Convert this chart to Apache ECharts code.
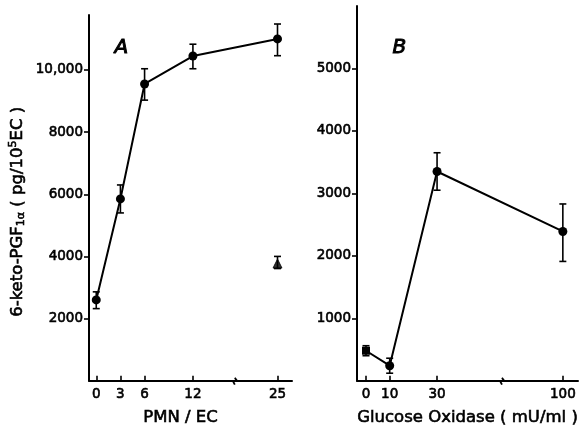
<!DOCTYPE html>
<html><head><meta charset="utf-8">
<script src="https://cdn.jsdelivr.net/npm/echarts@6/dist/echarts.min.js"></script>
<style>html,body{margin:0;padding:0;background:#fff}#c{width:582px;height:432px}</style>
</head><body><div id="c"></div>
<script>
// Panel A: PMN/EC
const pmnX = [0, 3, 6, 12, 25];
const pgfA = [2600, 5850, 9550, 10450, 11000];
const pgfALo = [2320, 5400, 9030, 10040, 10460];
const pgfAHi = [2860, 6300, 10040, 10830, 11480];
const triX = [25];
const triY = [3770];
const triLo = [3610];
const triHi = [4000];
const ticksAx = [0, 3, 6, 12, 25];
const ticksAy = [2000, 4000, 6000, 8000, 10000];
const breakA = {start: 17.2, end: 19.7};

// Panel B: Glucose oxidase
const goX = [0, 10, 30, 100];
const pgfB = [480, 240, 3350, 2390];
const pgfBLo = [400, 120, 3050, 1910];
const pgfBHi = [560, 360, 3650, 2830];
const ticksBx = [0, 10, 30, 100];
const ticksBy = [1000, 2000, 3000, 4000, 5000];
const breakB = {start: 57.4, end: 74.3};

const FONT = 'DejaVu Sans';
const TB = {textBorderColor: '#000', textBorderWidth: 0.6};
const chart = echarts.init(document.getElementById('c'), null, {renderer: 'canvas'});

function errRender(params, api) {
  const x = api.value(0);
  const p1 = api.coord([x, api.value(1)]);
  const p2 = api.coord([x, api.value(2)]);
  const w = 3.5;
  const st = {stroke: '#000', lineWidth: 1.6};
  return {type: 'group', children: [
    {type: 'line', shape: {x1: p1[0], y1: p1[1], x2: p2[0], y2: p2[1]}, style: st},
    {type: 'line', shape: {x1: p1[0]-w, y1: p1[1], x2: p1[0]+w, y2: p1[1]}, style: st},
    {type: 'line', shape: {x1: p2[0]-w, y1: p2[1], x2: p2[0]+w, y2: p2[1]}, style: st}
  ]};
}
function breakRender(params, api) {
  const p = api.coord([api.value(0), api.value(1)]);
  const x = p[0], y = p[1];
  return {type: 'polyline', shape: {points: [[x, y-3], [x+1.5, y-1], [x-1.5, y+1], [x, y+4]]},
    style: {stroke: '#000', lineWidth: 1.8, fill: null}};
}

function xAxisCfg(idx, min, max, br, ticks, name, gap, namePad) {
  return {
    gridIndex: idx, type: 'value', min: min, max: max,
    breaks: [{start: br.start, end: br.end, gap: 0}],
    breakArea: {show: false, itemStyle: {opacity: 0}},
    name: name, nameLocation: 'middle', nameGap: gap,
    nameTextStyle: Object.assign({fontFamily: FONT, fontSize: 16.5, color: '#000', padding: namePad}, TB),
    axisLine: {show: true, onZero: false, lineStyle: {color: '#000', width: 2}},
    axisTick: {show: true, inside: true, length: 5, customValues: ticks, lineStyle: {color: '#000', width: 1.6}},
    axisLabel: Object.assign({customValues: ticks, margin: 7, fontFamily: FONT, fontSize: 13.5, color: '#000'}, TB),
    splitLine: {show: false}
  };
}
function yAxisCfg(idx, max, ticks, fmt) {
  return {
    gridIndex: idx, type: 'value', min: 0, max: max,
    axisLine: {show: true, onZero: false, lineStyle: {color: '#000', width: 2}},
    axisTick: {show: true, inside: false, length: 5, customValues: ticks, lineStyle: {color: '#000', width: 1.6}},
    axisLabel: Object.assign({customValues: ticks, margin: 6, fontFamily: FONT, fontSize: 13.5, color: '#000', formatter: fmt}, TB),
    splitLine: {show: false}
  };
}

const yA = yAxisCfg(0, 11770, ticksAy, v => v >= 10000 ? '10,000' : String(v));
yA.name = '6-keto-PGF{sub|1α} ( pg/10{sup|5}EC )';
yA.nameLocation = 'middle';
yA.nameGap = 62;
yA.nameRotate = 90;
yA.nameTextStyle = Object.assign({fontFamily: FONT, fontSize: 16.5, color: '#000', padding: [0, 28, 0, 0],
  rich: {
    sub: Object.assign({fontFamily: FONT, fontSize: 11, color: '#000', verticalAlign: 'bottom', padding: [6, 0, 0, 0]}, TB),
    sup: Object.assign({fontFamily: FONT, fontSize: 11, color: '#000', verticalAlign: 'top', padding: [0, 0, 8, 0]}, TB)
  }}, TB);

chart.setOption({
  animation: false,
  backgroundColor: '#fff',
  grid: [
    {left: 89, top: 15, width: 203, height: 368},
    {left: 357, top: 6, width: 221, height: 377}
  ],
  graphic: [
    {type: 'text', left: 114, top: 37, style: {text: 'A', fontFamily: FONT, fontSize: 20, fontStyle: 'italic', fill: '#000', stroke: '#000', lineWidth: 1}},
    {type: 'text', left: 392, top: 37, style: {text: 'B', fontFamily: FONT, fontSize: 20, fontStyle: 'italic', fill: '#000', stroke: '#000', lineWidth: 1}}
  ],
  xAxis: [
    xAxisCfg(0, -0.9, 26.8, breakA, ticksAx, 'PMN / EC', 29, [0, 20, 0, 0]),
    xAxisCfg(1, -3.8, 106.4, breakB, ticksBx, 'Glucose Oxidase ( mU/ml )', 29, [0, 0, 0, 0])
  ],
  yAxis: [
    yA,
    yAxisCfg(1, 6000, ticksBy, v => String(v))
  ],
  series: [
    {type: 'custom', xAxisIndex: 0, yAxisIndex: 0, renderItem: errRender, clip: false,
     data: pmnX.map((x, i) => [x, pgfALo[i], pgfAHi[i]]), z: 3},
    {type: 'custom', xAxisIndex: 0, yAxisIndex: 0, renderItem: errRender, clip: false,
     data: triX.map((x, i) => [x, triLo[i], triHi[i]]), z: 3},
    {type: 'line', xAxisIndex: 0, yAxisIndex: 0, data: pmnX.map((x, i) => [x, pgfA[i]]),
     symbol: 'circle', symbolSize: 9, itemStyle: {color: '#000'}, lineStyle: {color: '#000', width: 2}, z: 4},
    {type: 'scatter', xAxisIndex: 0, yAxisIndex: 0, data: triX.map((x, i) => [x, triY[i]]),
     symbol: 'triangle', symbolSize: 9, itemStyle: {color: '#000', borderColor: '#000', borderWidth: 1}, z: 4},
    {type: 'custom', xAxisIndex: 0, yAxisIndex: 0, renderItem: breakRender, clip: false, silent: true,
     data: [[breakA.start, 0]], z: 5},

    {type: 'custom', xAxisIndex: 1, yAxisIndex: 1, renderItem: errRender, clip: false,
     data: goX.map((x, i) => [x, pgfBLo[i], pgfBHi[i]]), z: 3},
    {type: 'line', xAxisIndex: 1, yAxisIndex: 1,
     data: goX.map((x, i) => i === 0 ? {value: [x, pgfB[i]], symbol: 'rect', symbolSize: 8} : [x, pgfB[i]]),
     symbol: 'circle', symbolSize: 9, itemStyle: {color: '#000'}, lineStyle: {color: '#000', width: 2}, z: 4},
    {type: 'custom', xAxisIndex: 1, yAxisIndex: 1, renderItem: breakRender, clip: false, silent: true,
     data: [[breakB.start, 0]], z: 5}
  ]
});
</script></body></html>
